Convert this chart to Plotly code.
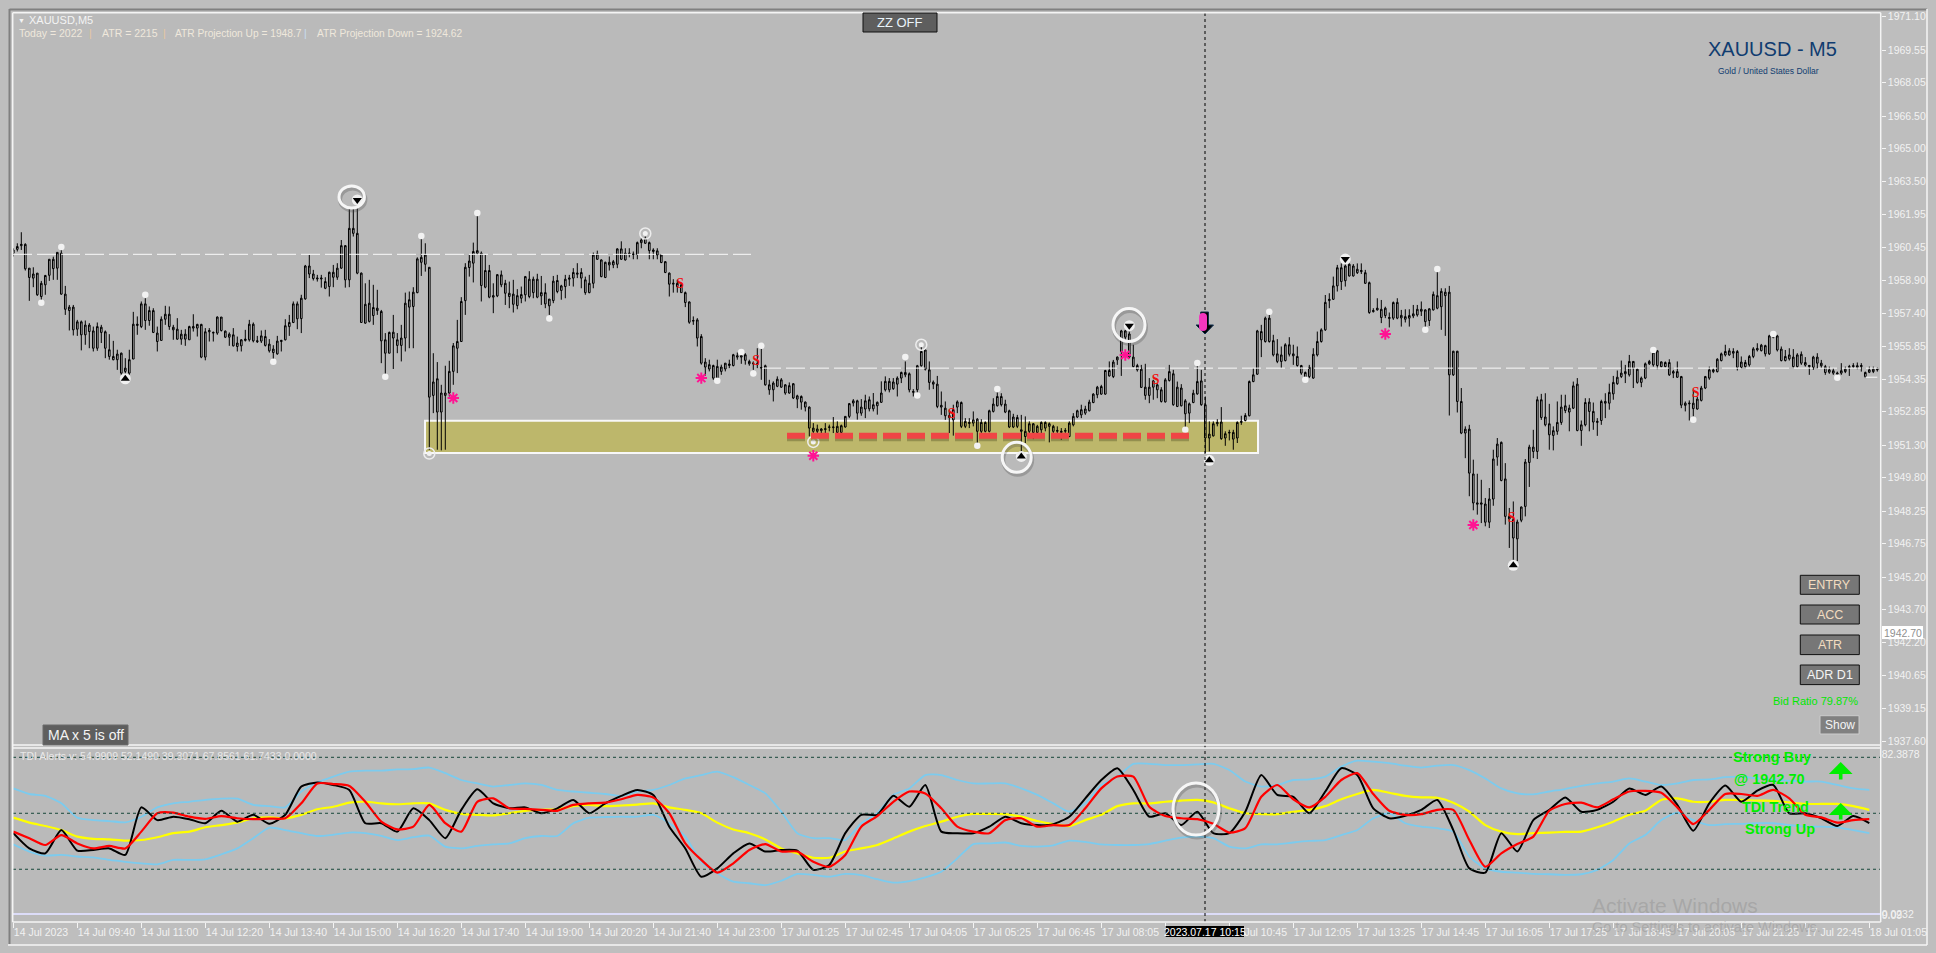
import plotly.graph_objects as go

W, H = 1936, 953
price_base = 1900.0

# Candle values are (price - 1900). Bodies are hollow, so only top/bottom can be read.
high = [
60.40,60.63,61.14,60.63,59.48,59.52,59.25,58.89,59.17,59.89,
60.01,60.21,60.40,58.66,57.78,57.78,57.09,57.06,57.06,56.94,
56.78,56.97,56.86,56.60,56.43,56.12,55.71,55.58,55.32,55.71,
57.46,57.25,57.94,58.09,57.71,57.63,56.78,57.25,57.74,57.71,
56.86,57.17,56.63,56.66,56.82,57.35,56.91,56.91,56.71,56.71,
56.55,57.25,57.22,56.60,56.51,56.71,56.32,56.20,56.63,57.09,
56.97,56.35,56.60,56.63,56.20,55.92,56.35,56.17,57.12,57.32,
57.94,57.94,58.25,59.63,60.09,59.40,59.17,59.17,59.06,59.32,
59.63,59.71,60.78,60.55,62.30,62.30,62.30,59.28,58.78,58.94,
58.71,58.48,57.55,56.48,56.55,57.32,56.48,56.86,58.35,58.40,
58.60,59.98,60.86,60.63,59.52,55.55,55.14,54.09,54.97,55.20,
56.02,57.09,58.14,59.71,60.09,60.66,62.01,60.25,60.09,59.63,58.78,59.21,
59.37,58.94,58.86,58.94,58.51,58.63,59.12,59.34,59.09,59.22,
59.12,58.78,58.05,59.12,59.17,58.71,59.17,59.17,59.48,59.71,
59.48,59.09,59.17,60.20,60.29,59.89,59.78,60.02,59.86,60.40,
60.72,60.40,60.40,60.25,60.71,60.86,60.94,60.71,60.40,60.40,
60.12,59.81,59.28,58.97,58.94,58.78,58.40,57.94,57.25,57.17,
56.43,55.32,55.25,55.02,55.25,55.02,55.09,55.25,55.52,55.58,
55.71,55.55,55.25,55.17,55.78,55.86,55.02,54.32,54.25,54.48,
54.40,54.12,54.20,54.17,53.63,53.60,53.32,53.09,52.32,52.25,
52.09,52.32,52.25,52.60,52.40,52.25,52.63,53.25,53.43,53.40,
53.43,53.63,53.55,53.71,53.32,54.25,54.48,54.40,54.40,54.48,
54.70,55.17,54.66,53.89,55.01,55.86,55.74,55.17,54.29,54.50,
53.78,53.32,52.94,53.17,53.37,53.32,52.55,52.55,52.86,52.55,
52.50,52.40,52.94,53.47,53.74,53.70,53.40,52.94,52.75,52.70,
52.70,52.63,52.40,52.32,52.24,52.40,52.40,52.35,52.24,52.17,
52.09,52.09,52.40,52.78,52.94,53.17,53.12,53.40,53.70,54.04,
54.09,54.78,55.17,55.24,55.40,56.63,56.63,56.55,55.94,55.06,
55.01,55.06,54.40,54.32,54.17,53.98,54.40,55.01,54.78,54.24,
54.12,53.43,53.27,53.86,55.06,54.78,53.55,52.40,52.40,52.50,
53.06,51.94,52.01,52.01,52.40,52.66,52.78,54.29,54.86,56.63,
56.86,57.24,57.32,56.40,56.20,55.86,56.01,56.29,55.94,55.86,
55.01,54.70,55.01,55.78,56.55,56.70,58.24,58.32,59.09,59.63,
59.70,59.78,59.70,59.67,59.70,59.70,59.40,58.86,57.63,58.09,
58.01,57.70,57.43,57.94,58.09,
57.55,57.58,57.58,57.78,57.78,57.94,57.58,57.63,58.40,59.32,
58.55,58.55,58.66,55.66,55.66,53.94,52.17,52.24,50.63,49.98,
49.70,48.86,49.32,51.09,51.63,51.47,50.47,48.40,48.70,47.86,
48.47,50.66,51.32,52.01,53.55,53.67,53.70,53.21,52.17,53.32,
53.63,53.63,53.17,54.24,54.40,52.44,53.47,53.47,53.27,52.55,
53.40,53.70,54.14,54.50,54.75,55.21,55.01,55.47,55.17,54.86,
54.47,55.12,55.24,55.70,55.70,55.17,55.17,55.27,54.78,55.17,
54.50,53.32,53.37,53.86,53.55,54.04,54.50,54.93,54.86,55.32,
55.58,55.94,55.78,55.78,55.70,55.40,55.24,55.47,55.83,56.01,
55.98,55.94,56.40,56.40,56.40,55.86,55.70,55.78,55.74,55.55,
55.63,55.37,55.01,55.43,55.55,55.24,55.01,54.93,54.86,54.70,
55.09,54.93,55.01,55.09,55.12,55.09,54.70,54.93,54.93,54.90,
]
body_top = [
60.32,60.48,60.58,60.58,59.48,59.21,59.25,58.78,59.14,59.89,
59.89,60.21,60.17,58.28,57.68,57.68,57.00,57.00,56.85,56.85,
56.58,56.78,56.75,56.54,55.71,55.40,55.51,55.55,54.86,55.25,
56.89,56.89,57.83,57.83,57.52,57.52,56.48,57.12,57.35,57.35,
56.75,56.66,56.43,56.43,56.78,56.78,56.88,56.88,56.54,56.60,
56.51,57.22,57.22,56.57,56.43,56.40,56.02,56.17,56.20,56.89,
56.89,56.12,56.35,56.32,55.97,55.74,56.11,56.14,56.82,56.97,
57.83,57.83,58.09,59.58,59.58,59.21,59.02,59.02,58.86,59.29,
59.29,59.48,60.52,60.52,61.32,61.32,61.09,59.25,57.81,57.86,
57.66,57.63,57.48,56.17,56.51,56.52,56.17,56.25,57.86,58.02,
58.37,59.91,59.98,60.09,59.52,54.22,54.37,53.71,53.71,54.71,
55.89,56.09,57.94,59.52,59.81,60.25,60.29,60.17,59.37,59.37,58.21,59.18,
59.17,58.78,58.32,58.28,58.21,58.26,59.09,58.97,58.97,58.97,
58.35,58.35,58.05,58.88,58.91,58.66,58.97,59.02,59.28,59.25,
59.28,58.94,58.78,60.09,60.14,59.86,59.75,59.75,59.78,60.37,
60.37,60.17,60.17,60.12,60.66,60.78,60.86,60.66,60.32,60.28,
60.09,59.78,59.25,58.78,58.78,58.71,58.35,57.92,57.06,57.09,
56.32,55.14,55.02,54.98,54.94,54.91,55.09,55.05,55.48,55.43,
55.43,55.48,55.17,55.09,55.06,54.89,54.97,54.09,54.17,54.35,
54.32,54.09,54.05,54.14,53.58,53.55,53.29,53.06,52.09,52.05,
52.05,52.06,52.14,52.14,52.17,52.20,52.63,53.22,53.35,53.35,
53.06,53.35,53.40,53.17,53.28,53.71,54.25,54.25,54.22,54.40,
54.66,54.66,54.60,53.78,54.97,55.63,55.70,54.78,54.21,54.12,
53.14,53.01,52.67,52.94,53.30,53.27,52.40,52.35,52.47,52.50,
52.35,52.35,52.89,53.20,53.55,53.55,53.20,52.89,52.60,52.58,
52.01,51.94,52.29,52.29,52.17,52.35,52.35,52.29,52.17,51.98,
51.94,51.98,52.32,52.63,52.89,52.94,52.97,53.29,53.66,53.98,
54.01,54.75,54.75,55.14,55.37,56.58,56.58,56.44,55.37,54.98,
54.81,53.98,53.98,54.27,54.09,53.86,54.32,54.70,54.60,53.98,
53.94,53.35,53.21,53.70,54.24,54.27,53.17,51.81,52.29,52.35,
52.37,51.83,51.89,51.89,52.35,52.40,52.67,54.24,54.55,56.58,
56.55,57.17,57.17,56.13,55.52,55.47,55.94,55.94,55.52,55.40,
54.98,54.66,54.90,55.50,56.09,56.63,57.90,58.04,58.66,59.50,
59.50,59.58,59.66,59.58,59.43,59.37,59.27,58.81,57.52,57.63,
57.58,57.63,57.20,57.89,57.90,
57.30,57.24,57.29,57.37,57.58,57.58,57.55,57.60,58.27,58.21,
58.41,58.37,58.37,55.64,55.64,53.32,52.04,52.04,49.97,48.63,
48.63,48.58,48.81,50.66,51.35,51.43,49.74,48.01,47.86,47.75,
48.44,50.52,51.21,51.21,53.40,53.40,52.60,52.29,51.97,52.35,
53.06,53.12,53.01,54.04,54.12,52.24,53.27,53.29,52.86,52.40,
53.32,53.32,53.74,54.20,54.44,54.63,54.70,55.17,55.17,54.81,
54.40,55.06,55.17,55.58,55.66,55.15,55.12,55.12,54.70,54.70,
54.47,53.24,53.24,53.24,53.43,53.94,54.47,54.78,54.78,55.27,
55.52,55.63,55.66,55.63,55.63,55.14,55.12,55.40,55.75,55.77,
55.92,55.90,56.35,56.32,56.35,55.74,55.40,55.47,55.37,55.47,
55.50,55.12,54.98,55.37,55.37,55.09,54.93,54.78,54.74,54.63,
54.74,54.81,54.93,54.97,54.97,54.98,54.66,54.78,54.81,54.81,
]
body_bottom = [
60.17,60.35,60.52,59.45,59.05,59.02,58.25,58.17,58.71,59.15,
59.46,59.48,58.28,57.58,57.52,56.63,56.66,56.40,56.40,56.55,
55.78,55.78,56.51,55.78,55.40,55.25,55.25,54.63,54.71,54.63,
55.28,56.83,56.78,57.06,57.06,56.51,56.09,56.14,57.12,56.78,
56.63,56.20,56.20,56.20,56.17,56.71,56.71,55.37,55.37,56.54,
56.48,56.48,56.60,56.29,56.29,55.89,55.86,55.89,56.14,56.17,
56.12,56.08,56.11,55.91,55.66,55.58,55.52,56.09,56.17,56.78,
56.97,57.14,57.15,58.06,59.21,59.00,58.98,58.98,58.55,58.63,
59.06,59.06,59.48,58.94,58.94,61.09,59.25,56.97,56.94,57.02,
57.29,57.52,56.12,55.55,55.55,56.25,55.91,55.91,56.25,57.68,
57.71,58.35,59.75,59.66,53.52,53.60,52.83,52.83,53.60,53.71,
54.71,55.78,56.09,57.98,59.51,59.71,60.17,58.68,58.60,58.14,58.14,58.20,
58.71,58.32,58.17,57.81,57.75,58.09,58.25,58.17,58.35,58.14,
58.20,57.83,57.74,57.98,58.40,58.45,58.63,58.97,59.02,59.20,
59.02,58.35,58.35,58.78,59.89,59.09,59.05,59.63,59.63,59.66,
59.89,59.86,60.12,60.12,60.12,60.66,60.63,60.29,60.25,60.09,
59.74,59.28,58.74,58.74,58.63,58.35,57.89,56.98,57.03,56.25,
55.09,54.91,54.82,54.40,54.40,54.71,54.82,54.98,54.98,55.37,
55.37,55.22,55.06,55.06,55.02,54.86,54.09,53.86,53.86,54.02,
53.98,53.71,53.71,53.48,53.43,53.29,53.06,52.09,51.94,51.94,
51.97,52.02,52.12,52.11,51.89,51.89,52.14,52.63,53.25,52.78,
52.78,52.97,52.98,52.98,53.12,53.28,53.86,53.86,53.91,54.12,
54.40,54.55,53.86,53.74,53.86,54.97,54.81,54.20,54.12,53.09,
53.06,52.66,52.58,52.47,53.06,52.17,52.17,52.30,52.32,51.94,
51.94,51.94,51.94,52.86,53.12,53.17,52.83,52.14,52.14,52.17,
51.94,51.70,51.94,51.89,51.89,52.01,52.09,52.17,51.94,51.94,
51.89,51.94,51.70,52.24,52.60,52.70,52.78,52.89,53.27,53.63,
53.66,53.66,54.50,54.47,55.24,55.63,56.29,55.37,54.93,54.78,
53.97,53.60,53.60,53.98,53.86,53.32,53.30,54.29,53.17,53.09,
53.12,52.75,52.78,53.27,53.67,53.17,51.63,51.63,51.73,52.29,
51.60,51.63,51.86,51.58,51.63,52.35,52.44,52.66,54.24,54.58,
56.17,56.09,56.09,55.47,55.17,55.17,55.21,55.50,55.43,54.98,
54.63,54.44,54.47,54.40,55.47,56.09,56.63,57.98,58.04,58.66,
58.86,58.90,59.12,59.12,59.27,59.32,58.78,57.43,57.47,57.55,
57.20,57.29,57.15,57.17,57.17,
57.18,57.12,57.17,57.27,57.32,57.49,57.01,57.06,57.55,57.63,
57.70,58.21,54.55,54.55,53.32,51.86,51.86,50.01,48.63,48.57,
48.57,47.74,47.74,48.81,50.75,49.67,48.01,47.89,47.01,46.97,
47.83,48.47,50.50,51.01,51.01,52.58,52.24,51.78,51.75,51.94,
52.35,52.90,52.83,53.01,51.98,51.98,52.24,52.86,52.37,52.35,
52.44,53.24,53.24,53.67,54.14,54.47,54.60,54.55,54.86,54.20,
54.20,54.40,55.06,55.01,54.98,54.93,54.93,54.55,54.63,54.44,
53.15,53.14,53.21,52.99,52.97,53.37,53.94,54.40,54.70,54.70,
55.21,55.47,55.47,55.55,54.90,54.90,54.93,55.01,55.40,55.70,
55.67,55.52,55.52,56.29,55.70,55.21,55.21,55.29,54.93,54.93,
55.09,55.00,54.93,54.90,55.09,54.97,54.66,54.67,54.63,54.58,
54.63,54.70,54.89,54.93,54.90,54.93,54.47,54.67,54.70,54.78,
]
low = [
60.02,60.25,60.32,59.37,57.97,58.60,58.20,57.86,58.25,58.89,
58.94,58.94,58.25,57.32,56.60,56.37,56.35,55.68,55.94,55.78,
55.63,55.66,56.02,55.32,55.25,55.22,54.78,54.55,54.55,54.55,
55.28,56.40,56.71,56.63,56.82,56.48,55.63,56.14,56.86,56.63,
56.17,56.17,55.94,55.89,56.17,56.55,56.32,55.32,55.22,56.09,
56.09,56.40,56.55,56.25,55.89,55.86,55.63,55.63,56.09,56.09,
56.05,56.02,56.02,55.86,55.58,55.28,55.48,55.63,56.14,56.35,
56.94,56.66,56.48,58.02,59.02,58.91,58.86,58.58,58.51,58.17,
58.60,58.94,59.45,58.58,58.60,60.94,59.20,56.97,56.91,56.97,
56.86,57.32,55.09,54.55,55.55,54.82,55.55,55.17,55.63,55.78,
55.78,58.32,59.12,59.32,51.09,52.78,51.09,51.06,51.09,53.55,
54.09,54.63,56.09,57.32,59.09,58.82,60.09,57.94,58.55,58.09,57.40,58.14,
58.60,57.78,57.63,57.43,57.58,57.86,57.94,58.09,58.09,58.09,
57.78,57.63,57.32,57.86,58.32,58.02,58.09,58.66,58.63,59.02,
58.55,58.25,58.32,58.55,59.86,59.06,59.02,59.37,59.48,59.48,
59.86,59.83,59.98,59.89,59.89,60.40,60.60,59.89,59.89,59.89,
59.71,59.25,58.17,58.35,58.35,58.35,57.68,56.91,56.86,55.86,
55.02,54.51,54.71,54.32,54.32,54.55,54.71,54.86,54.94,55.25,
55.06,55.02,54.97,54.78,54.86,54.32,54.05,53.63,53.32,53.98,
53.95,53.63,53.68,53.43,53.01,52.94,52.86,51.71,51.63,51.86,
51.78,51.86,51.94,51.86,51.86,51.86,52.11,52.55,53.09,52.48,
52.66,52.55,52.86,52.86,52.71,53.25,53.78,53.74,53.86,53.55,
54.17,54.44,53.74,53.55,53.55,54.93,54.75,53.86,53.89,53.01,
52.70,52.47,51.86,51.74,52.78,52.09,52.09,52.09,52.17,51.32,
51.86,51.89,51.89,52.81,53.09,53.09,52.78,52.09,52.09,52.09,
51.01,51.40,51.78,51.58,51.78,51.86,51.94,51.43,51.83,51.70,
51.55,51.78,51.67,52.17,52.55,52.55,52.70,52.86,53.24,53.47,
53.63,53.63,54.47,54.40,55.01,54.50,56.17,55.32,54.90,54.70,
53.94,53.40,53.24,53.40,53.47,53.27,53.27,54.24,53.12,53.06,
53.09,52.09,52.32,53.24,53.63,53.12,50.94,51.01,51.70,52.17,
51.55,51.27,51.52,51.09,51.40,52.24,52.40,52.63,54.21,54.55,
55.37,56.04,56.04,55.40,55.09,54.86,55.17,55.40,55.01,54.93,
54.55,54.40,54.40,54.37,55.40,56.04,56.58,57.63,58.01,58.40,
58.47,58.63,59.09,59.09,59.21,59.21,58.75,57.37,57.43,57.52,
56.94,57.17,56.74,57.09,57.12,
56.78,56.97,56.78,57.17,57.24,57.27,56.75,56.81,57.52,57.58,
56.63,56.35,52.67,54.50,52.81,51.81,50.70,48.94,48.29,48.09,
47.70,47.55,47.47,48.50,50.35,49.63,47.63,46.55,45.86,45.94,
47.74,48.01,49.37,50.70,50.66,52.47,52.17,51.09,51.06,51.78,
52.24,52.78,51.94,52.97,51.94,51.27,52.17,51.94,52.01,51.73,
52.24,52.55,52.94,53.40,54.09,54.40,54.17,54.47,53.94,54.14,
53.98,54.35,55.01,54.93,54.81,54.90,54.90,54.50,54.40,54.41,
53.01,52.86,52.44,52.63,52.94,53.32,53.89,54.32,54.63,54.66,
55.17,55.40,55.43,55.32,54.75,54.86,54.90,54.93,55.32,55.63,
55.63,55.40,55.47,56.24,55.63,55.17,55.17,55.21,54.90,54.89,
55.01,54.93,54.55,54.78,54.86,54.86,54.55,54.60,54.55,54.47,
54.55,54.63,54.50,54.86,54.81,54.70,54.40,54.63,54.63,54.70,
]

price_ticks = [1971.10,1969.55,1968.05,1966.50,1965.00,1963.50,1961.95,1960.45,1958.90,1957.40,
               1955.85,1954.35,1952.85,1951.30,1949.80,1948.25,1946.75,1945.20,1943.70,1942.20,
               1940.65,1939.15,1937.60]
time_labels = ["14 Jul 2023","14 Jul 09:40","14 Jul 11:00","14 Jul 12:20","14 Jul 13:40","14 Jul 15:00",
               "14 Jul 16:20","14 Jul 17:40","14 Jul 19:00","14 Jul 20:20","14 Jul 21:40","14 Jul 23:00",
               "17 Jul 01:25","17 Jul 02:45","17 Jul 04:05","17 Jul 05:25","17 Jul 06:45","17 Jul 08:05",
               "17 Jul 09:25","17 Jul 10:45","17 Jul 12:05","17 Jul 13:25","17 Jul 14:45","17 Jul 16:05",
               "17 Jul 17:25","17 Jul 18:45","17 Jul 20:05","17 Jul 21:25","17 Jul 22:45","18 Jul 01:05"]
time_tick_bars = [16 * k for k in range(len(time_labels))]

# TDI pane, read every 4 bars
tdi_bars = list(range(0, 468, 4))
tdi_black = [
43.6,38.7,37.1,44.6,38.0,38.2,38.7,36.6,51.9,47.8,48.9,48.1,46.8,50.8,47.3,49.5,46.6,49.5,58.6,59.9,
59.1,57.5,46.8,46.8,44.1,51.6,47.8,42.0,51.1,57.7,53.2,51.6,51.9,50.0,51.6,54.3,50.0,53.2,55.6,57.5,
55.9,45.7,38.7,29.6,32.3,37.1,40.3,37.7,38.2,38.0,31.8,33.4,43.6,49.5,49.5,55.6,52.1,59.1,44.1,43.6,
43.6,45.7,48.9,46.8,46.2,46.5,48.9,54.8,60.7,64.5,57.5,48.9,50.0,46.2,50.5,43.6,43.6,50.5,62.3,55.9,
55.3,50.0,57.0,64.5,62.3,51.6,48.4,49.2,51.1,54.3,44.6,32.3,30.9,43.6,37.7,47.8,51.1,55.1,50.5,51.1,
53.7,58.0,55.9,58.6,52.7,44.4,53.2,58.9,53.7,57.3,59.1,50.0,50.0,48.4,45.9,49.1,46.8]
tdi_red = [
44.1,42.0,39.8,43.0,40.3,38.7,39.5,38.7,44.1,50.0,50.2,48.9,48.2,49.1,48.4,48.1,48.3,48.4,53.2,59.6,
59.4,58.8,53.7,47.3,44.8,45.7,52.7,46.8,44.1,53.7,54.8,51.6,51.4,51.1,50.8,52.7,53.2,53.4,54.5,55.9,
55.1,50.0,40.3,35.0,30.9,33.9,38.2,40.1,37.7,37.7,34.4,32.8,36.6,45.7,49.1,53.7,57.0,56.4,51.6,45.7,
44.1,43.6,47.8,48.4,45.7,46.2,46.2,51.6,58.0,61.8,61.8,52.1,49.1,48.4,48.1,46.6,43.8,45.2,55.3,59.1,
54.5,51.9,55.3,60.7,62.9,56.2,50.8,49.5,49.7,51.1,51.1,41.4,32.8,37.1,40.1,42.5,50.8,53.0,53.4,51.9,
54.5,57.0,57.2,56.6,51.9,46.5,51.1,56.2,56.2,55.6,57.5,54.8,49.5,48.7,47.0,47.8,48.1]
tdi_yellow = [
48.6,47.0,45.9,44.6,42.5,41.8,41.6,41.2,41.4,42.3,43.6,44.1,45.5,46.2,47.0,48.4,48.7,48.4,49.5,51.3,
52.1,53.4,53.7,53.2,52.9,53.2,53.2,51.1,49.8,49.5,49.3,50.0,50.8,51.1,51.3,52.3,52.7,52.3,52.5,52.8,
53.2,51.9,51.1,50.0,47.0,44.8,43.6,41.6,38.7,37.1,35.7,35.7,37.7,38.7,39.8,41.9,44.1,45.9,47.3,48.9,
49.8,49.8,49.7,48.9,47.5,46.5,45.9,47.8,49.5,52.3,53.2,53.2,53.7,54.1,54.3,53.5,51.6,50.0,49.7,49.7,
50.5,51.1,52.3,54.5,56.2,57.5,56.6,55.6,55.1,55.0,53.4,50.5,46.2,44.1,43.3,43.6,43.8,44.0,44.1,45.5,
47.3,49.5,50.8,54.3,54.8,53.7,53.7,54.3,54.3,54.1,54.0,53.5,53.0,53.0,53.0,52.3,51.1]
tdi_upper = [
58.0,56.2,55.6,53.2,48.6,47.8,47.5,47.1,48.9,51.9,53.2,53.7,54.3,54.7,54.7,52.7,52.3,51.9,57.0,59.9,
61.8,63.4,63.7,63.7,64.1,64.2,64.7,62.9,60.7,59.6,58.6,59.1,59.6,59.1,57.5,57.0,56.6,56.2,55.6,57.0,
57.5,59.1,61.2,62.3,63.4,61.6,59.1,56.4,50.5,43.6,42.0,42.0,41.4,46.8,50.0,55.9,58.0,62.3,62.3,60.7,
59.6,59.6,59.6,58.0,55.9,53.2,50.5,53.2,59.1,61.8,65.9,65.9,65.5,65.5,65.7,65.9,63.9,60.2,58.6,59.1,
60.7,60.9,61.8,65.0,66.9,66.6,66.1,65.3,64.7,65.3,65.5,63.9,61.2,58.0,56.4,56.1,57.0,57.8,58.8,59.6,
60.2,61.2,60.2,59.1,59.6,60.7,60.9,61.6,61.8,61.2,60.7,60.5,60.2,60.2,59.1,58.0,57.5]
tdi_lower = [
40.0,37.7,36.4,36.6,36.1,35.8,35.0,34.4,33.9,33.6,35.0,35.0,35.2,36.8,38.7,42.0,45.4,44.6,43.6,42.7,
43.1,43.8,43.6,42.7,41.4,42.3,42.8,39.3,38.7,39.5,40.0,40.3,42.0,42.7,42.7,46.8,48.6,48.8,48.9,48.9,
49.5,46.8,42.5,34.4,30.7,28.0,27.5,26.9,28.3,30.5,30.2,29.6,30.5,30.1,28.8,27.7,28.2,29.4,31.2,35.5,
40.1,40.3,40.6,39.5,39.3,39.7,41.2,40.8,40.0,39.8,39.8,40.1,41.2,42.2,42.5,42.0,39.3,38.7,40.0,40.0,
40.6,41.1,41.4,43.0,44.6,48.4,50.0,46.8,45.7,45.2,44.1,36.1,32.3,31.2,30.9,30.5,30.4,30.2,30.4,31.8,
35.0,40.3,43.0,47.8,50.2,47.8,46.2,46.5,46.6,46.8,46.8,46.2,45.7,45.7,45.5,44.6,43.6]
tdi_levels = [68, 50, 32]
tdi_floor = 17.6
tdi_tick_vals = [69.1, 17.4, 17.2]
tdi_tick_text = ["82.3878", "0.0232", "9.09"]

# Chart markers: bar index and price - 1900
dot_bar = [12,7,33,65,93,102,116,134,176,182,185,187,223,226,241,246,296,293,314,323,356,353,410,440,420,456]
dot_val = [60.46,57.88,58.25,55.15,54.46,60.97,62.03,57.15,54.28,55.61,54.61,55.89,55.38,53.60,51.27,53.90,
           55.10,52.01,57.46,54.32,59.44,56.63,55.70,56.44,52.47,54.41]
ring_bar = [158,104,200,227]
ring_val = [61.08,50.91,51.45,55.94]
up_bar = [28,252,299,375]
up_val = [54.37,50.78,50.60,45.75]
down_bar = [86,279,333]
down_val = [62.63,56.82,59.90]
star_bar = [110,172,200,278,343,365]
star_val = [53.48,54.40,50.81,55.47,56.44,47.61]
s_bar = [166.7,185.7,234.6,285.6,374.6,420.6]
s_val = [58.71,55.17,52.70,54.29,47.89,53.70]
level_a = 1960.12
level_b = 1954.86
zone_top, zone_bottom = 1952.43, 1950.94
red_level = 1951.74

BG = "#BABABA"
PAPER = "#BEBEBE"
WHITE = "#F4F4F4"
FONT = "Liberation Sans"
GREEN = "#00EE00"
NAVY = "#103C70"

def xf(px): return px / W
def yf(py): return 1 - py / H
def bar(px): return (px - 13.3) / 4
def up(vals): return [price_base + v for v in vals]

fig = go.Figure()
fig.add_trace(go.Candlestick(
    x=list(range(len(high))), open=up(body_bottom), high=up(high), low=up(low), close=up(body_top),
    increasing=dict(line=dict(color="black", width=1), fillcolor="rgba(0,0,0,0)"),
    decreasing=dict(line=dict(color="black", width=1), fillcolor="rgba(0,0,0,0)"),
    whiskerwidth=0, hoverinfo="skip", xaxis="x", yaxis="y"))

def pts(x, y, **kw):
    fig.add_trace(go.Scatter(x=x, y=up(y), mode="markers", hoverinfo="skip", xaxis="x", yaxis="y", **kw))

pts(dot_bar, dot_val, marker=dict(size=6.5, color="#F2F2F2"))
pts(ring_bar, ring_val, marker=dict(size=11, color="rgba(0,0,0,0)", line=dict(color="#EDEDED", width=1.5)))
pts(ring_bar, ring_val, marker=dict(size=5, color="#F2F2F2"))
pts(up_bar + down_bar, up_val + down_val, marker=dict(size=11, color="#F0F0F0"))
pts(up_bar, up_val, marker=dict(size=8, color="black", symbol="triangle-up"))
pts(down_bar, down_val, marker=dict(size=8, color="black", symbol="triangle-down"))
pts(star_bar, star_val, marker=dict(size=9.5, symbol="asterisk", color="#FF1493", line=dict(color="#FF1493", width=2)))
fig.add_trace(go.Scatter(x=s_bar, y=up(s_val), mode="text", text=["<b>S</b>"] * len(s_bar), hoverinfo="skip",
                         textfont=dict(color="#F01010", size=14, family="Liberation Serif"), xaxis="x", yaxis="y"))

# TDI lines
for series, color, width in [(tdi_upper, "#7CCBEE", 1.8), (tdi_lower, "#7CCBEE", 1.8), (tdi_yellow, "#FFFF00", 2.2),
                             (tdi_black, "#000000", 2), (tdi_red, "#FF0000", 2.2)]:
    fig.add_trace(go.Scatter(x=tdi_bars, y=series, mode="lines", hoverinfo="skip", xaxis="x", yaxis="y2",
                             line=dict(color=color, width=width, shape="spline", smoothing=0.6)))

shapes = []
def pline(x0, y0, x1, y1, color, width=1, dash=None, layer="above"):
    shapes.append(dict(type="line", xref="paper", yref="paper", x0=xf(x0), y0=yf(y0), x1=xf(x1), y1=yf(y1),
                       line=dict(color=color, width=width, dash=dash), layer=layer))
def prect(x0, y0, x1, y1, fill, color, width=1):
    shapes.append(dict(type="rect", xref="paper", yref="paper", x0=xf(x0), y0=yf(y0), x1=xf(x1), y1=yf(y1),
                       fillcolor=fill, line=dict(color=color, width=width)))
def pcircle(cx, cy, rx, ry, color, width=3.5, fill="rgba(0,0,0,0)"):
    shapes.append(dict(type="circle", xref="paper", yref="paper", x0=xf(cx - rx), y0=yf(cy - ry), x1=xf(cx + rx),
                       y1=yf(cy + ry), fillcolor=fill, line=dict(color=color, width=width)))

# Zone below the candles
shapes.append(dict(type="rect", xref="x", yref="y", x0=bar(425), x1=bar(1258), y0=zone_bottom, y1=zone_top,
                   fillcolor="#BDB76B", line=dict(color="#F8F8F8", width=2), layer="below"))
shapes.append(dict(type="line", xref="x", yref="y", x0=bar(787), x1=bar(1189), y0=red_level - 0.13, y1=red_level - 0.13,
                   line=dict(color="rgba(70,70,30,0.35)", width=5.5, dash="18px,6px")))
shapes.append(dict(type="line", xref="x", yref="y", x0=bar(787), x1=bar(1189), y0=red_level, y1=red_level,
                   line=dict(color="#F04545", width=6, dash="18px,6px")))
shapes.append(dict(type="line", xref="x", yref="y", x0=bar(13), x1=bar(751), y0=level_a, y1=level_a,
                   line=dict(color="#FAFAFA", width=1, dash="19px,5px")))
shapes.append(dict(type="line", xref="x", yref="y", x0=bar(762), x1=bar(1878), y0=level_b, y1=level_b,
                   line=dict(color="#FAFAFA", width=1, dash="19px,5px")))
shapes.append(dict(type="line", xref="x", yref="y", x0=463, x1=466, y0=1954.44, y1=1954.44,
                   line=dict(color="#FAFAFA", width=1)))
# TDI levels
for lv in tdi_levels:
    shapes.append(dict(type="line", xref="paper", yref="y2", x0=xf(13), x1=xf(1880), y0=lv, y1=lv,
                       line=dict(color="#17473A", width=1, dash="3px,3px")))
shapes.append(dict(type="line", xref="paper", yref="y2", x0=xf(13), x1=xf(1880), y0=tdi_floor, y1=tdi_floor,
                   line=dict(color="#DCDCF8", width=2)))
# Crosshair
pline(1205, 13, 1205, 922, "black", 1, "3px,3px")

# Frames
pline(9.5, 9, 9.5, 944, "#808080", 2)
pline(9.5, 9.5, 1927, 9.5, "#808080", 2)
pline(12.7, 12.7, 1880.7, 12.7, WHITE, 1.5)
pline(12.7, 12.7, 12.7, 922, WHITE, 1.5)
pline(1880.7, 12.7, 1880.7, 922, WHITE, 1.5)
pline(12.7, 745, 1880.7, 745, WHITE, 1.5)
pline(12.7, 748, 1880.7, 748, WHITE, 1.5)
pline(12.7, 922, 1880.7, 922, WHITE, 1.5)
pline(8, 945, 1927, 945, WHITE, 1.5)
pline(1927, 9, 1927, 945, WHITE, 1.5)

# Highlight rings
for cx, cy, rx, ry in [(351.7, 197, 12.7, 11), (1129, 325, 16, 16.5), (1016.7, 457.3, 14.5, 15), (1196, 809, 23, 26)]:
    pcircle(cx + 1, cy + 2.5, rx, ry, "rgba(70,70,70,0.28)", 4)
    pcircle(cx, cy, rx, ry, "#F6F6F6", 3)

# Down arrow with pink pill
shapes.append(dict(type="path", xref="paper", yref="paper", fillcolor="black", line=dict(color="#103050", width=1),
                   path=f"M {xf(1200.7)} {yf(312)} L {xf(1208.5)} {yf(312)} L {xf(1208.5)} {yf(325)} L {xf(1213.5)} {yf(325)} "
                        f"L {xf(1205)} {yf(334)} L {xf(1196)} {yf(325)} L {xf(1200.7)} {yf(325)} Z"))
prect(1199, 317, 1207, 327, "#F236BE", "#F236BE", 0)
pcircle(1203, 317, 4, 4, "#F236BE", 0, "#F236BE")
pcircle(1203, 327, 4, 4, "#F236BE", 0, "#F236BE")

# Buttons
for y0, y1 in [(575.3, 594.3), (605, 624), (635, 654.6), (665, 684.6)]:
    prect(1800.3, y0, 1859.3, y1, "#777777", "#101010", 1)
prect(1820, 715.7, 1859, 734, "#808080", "#CCCCCC", 1)
prect(43, 725, 128, 745, "#5E5E5E", "#6A6A6A", 1)
prect(863, 13, 937, 32, "#5E5E5E", "#101010", 1)
prect(1165.7, 926, 1244, 937, "#000000", "#000000", 0)
# last price box on the axis
prect(1882, 626, 1923, 639, "#FFFFFF", "#FFFFFF", 0)

anns = []
def text(x, y, s, size=10.5, color=WHITE, anchor="left", bold=False, family=FONT):
    anns.append(dict(xref="paper", yref="paper", x=xf(x), y=yf(y), text=f"<b>{s}</b>" if bold else s, showarrow=False,
                     xanchor=anchor, yanchor="middle", font=dict(family=family, size=size, color=color)))

text(16, 20.5, "▼", 7)
text(27, 20.5, "XAUUSD,M5", 11)
text(17, 33.5, "Today = 2022", 10.5, "#EFE8DC")
text(87, 33.5, "|", 10.5, "#E8C8A0")
text(99.7, 33.5, "ATR = 2215", 10.5, "#EFE8DC")
text(161, 33.5, "|", 10.5, "#E8C8A0")
text(173.3, 33.5, "ATR Projection Up = 1948.7", 10.2, "#EFE8DC")
text(302, 33.5, "|", 10.5, "#C8DCF0")
text(314.7, 33.5, "ATR Projection Down = 1924.62", 10.2, "#EFE8DC")
text(900, 22.5, "ZZ OFF", 13, "#EAF4FA", "center")
text(1772, 49, "XAUUSD - M5", 20, NAVY, "center")
text(1768, 70.5, "Gold / United States Dollar", 8.5, NAVY, "center")
text(85.5, 735, "MA x 5 is off", 14, "#F4F4F4", "center")
text(17.5, 756, "TDI Alerts v: 54.9909 52.1490 39.3071 67.8561 61.7433 0.0000", 10.5, "#E8E8E8")
text(1829.8, 585, "ENTRY", 12.5, "#F2DCC0", "center")
text(1829.8, 614.7, "ACC", 12.5, "#F2DCC0", "center")
text(1829.8, 645, "ATR", 12.5, "#F2DCC0", "center")
text(1829.8, 675, "ADR D1", 12.5, "#F4F4F4", "center")
text(1859.5, 701, "Bid Ratio 79.87%", 11, "#00E800", "right")
text(1839.5, 725, "Show", 12, "#F4F4F4", "center")
text(1902.5, 632.7, "1942.70", 10.5, "#909090", "center")
text(1205, 931.7, "2023.07.17 10:15", 10.5, "#FFFFFF", "center")
text(1731, 757, "Strong Buy", 14.5, GREEN, bold=True)
text(1732, 779, "@ 1942.70", 14.5, GREEN, bold=True)
text(1740, 807, "TDI Trend", 14.5, GREEN, bold=True)
text(1743, 829, "Strong Up", 14.5, GREEN, bold=True)
text(1590, 905, "Activate Windows", 21, "rgba(120,120,120,0.3)")
text(1590, 927, "Go to Settings to activate Windows.", 14.5, "rgba(120,120,120,0.3)")
for y0, y1 in [(781, 762), (821, 803)]:
    anns.append(dict(xref="paper", yref="paper", axref="pixel", ayref="pixel", x=xf(1840.7), y=yf(y1), ax=0, ay=y0 - y1,
                     text="", showarrow=True, arrowhead=1, arrowsize=1.1, arrowwidth=3.6, arrowcolor=GREEN))

fig.update_layout(
    width=W, height=H, margin=dict(l=0, r=0, t=0, b=0, autoexpand=False), autosize=False, showlegend=False,
    paper_bgcolor=PAPER, plot_bgcolor=BG, hovermode=False, boxgap=0.42, dragmode=False,
    font=dict(family=FONT, color=WHITE, size=10),
    xaxis=dict(domain=[xf(12.7), xf(1880.7)], range=[bar(12.7), bar(1880.7)], anchor="y2", showgrid=False, zeroline=False,
               showline=False, tickmode="array", tickvals=time_tick_bars, ticktext=time_labels, ticks="outside", ticklen=5,
               tickcolor=WHITE, tickwidth=1, tickfont=dict(size=10.5, color="#F2F2F2", family=FONT), automargin=False,
               ticklabelposition="outside right", ticklabeloverflow="allow", tickangle=0,
               rangeslider=dict(visible=False)),
    yaxis=dict(domain=[yf(745), yf(12.7)], range=[1971.1 - (745 - 16.7) / 21.64, 1971.1 + 4 / 21.64], anchor="x", side="right",
               showgrid=False, zeroline=False, showline=False, tickmode="array", tickvals=price_ticks, automargin=False,
               ticktext=[f"{p:.2f}" for p in price_ticks], ticks="outside", ticklen=4, tickcolor=WHITE,
               tickfont=dict(size=10.5, color="#F2F2F2", family=FONT), ticklabeloverflow="allow"),
    yaxis2=dict(domain=[yf(922), yf(748)], range=[68 - (922 - 757.3) / 3.11, 68 + (757.3 - 748) / 3.11], anchor="x", side="right",
                showgrid=False, zeroline=False, showline=False, tickmode="array", tickvals=tdi_tick_vals, automargin=False,
                ticktext=tdi_tick_text, ticks="", tickfont=dict(size=10.5, color="#F2F2F2", family=FONT),
                ticklabeloverflow="allow"),
    shapes=shapes, annotations=anns)

fig.write_html("out.html", config=dict(displayModeBar=False, staticPlot=True),
               post_script="document.documentElement.style.overflow='hidden';document.body.style.overflow='hidden';"
                           "document.body.style.margin='0';document.body.style.background='#BEBEBE';")
